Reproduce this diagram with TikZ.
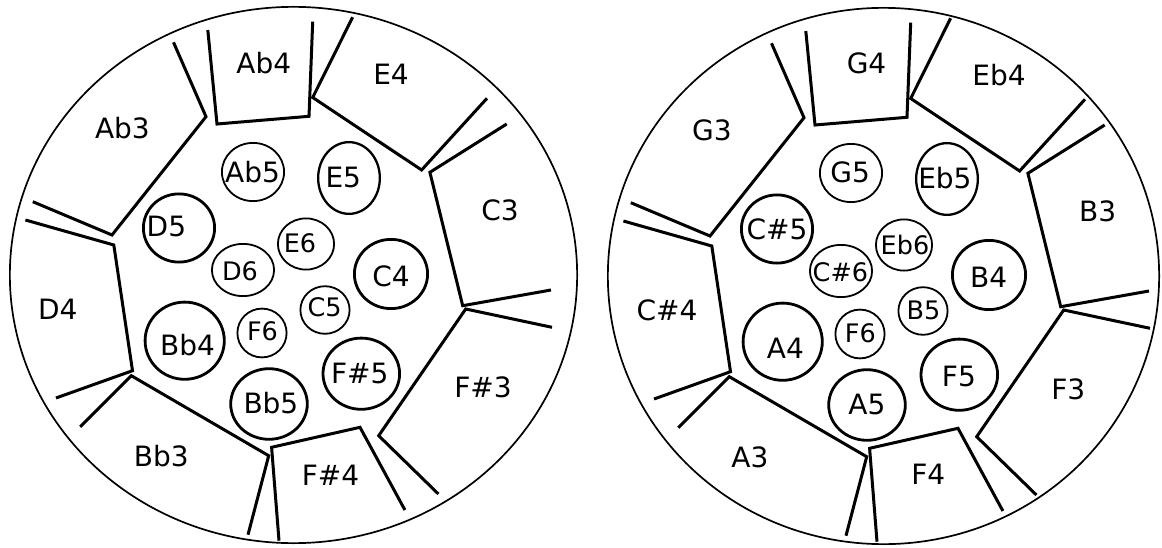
\documentclass[tikz,border=0pt]{standalone}
\usepackage{fontspec}
\setmainfont{DejaVu Sans}
\usetikzlibrary{shapes.geometric}
\tikzset{
  divider/.style={line width=3pt, line join=miter, line cap=butt},
  rim/.style={draw, ellipse, line width=1.7pt, inner sep=0pt},
  ringthick/.style={draw, ellipse, line width=2.8pt, inner sep=0pt},
  ringmid/.style={draw, ellipse, line width=2.3pt, inner sep=0pt},
  ringthin/.style={draw, ellipse, line width=1.8pt, inner sep=0pt},
  lbl/.style={font=\fontsize{28}{30}\selectfont, inner sep=0pt},
  slbl/.style={font=\fontsize{25.5}{28}\selectfont, inner sep=0pt},
}
\newcommand\panelgeom{%
  \draw[divider] (173.5,42.3) -- (206,116.7) -- (112,235) -- (32.8,201.7);
  \draw[divider] (25.4,220) -- (113.8,245) -- (132.5,370.7) -- (56,398);
  \draw[divider] (80.2,426.7) -- (131.3,375.7) -- (268.7,455.7) -- (248,534.7);
  \draw[divider] (279,540.7) -- (271.6,447.3) -- (360,427.3) -- (404.9,510);
  \draw[divider] (438.4,494) -- (378.7,435.7) -- (465.7,309) -- (552,327.3);
  \draw[divider] (551,290) -- (462.7,305.7) -- (429.9,172.3) -- (506.7,124);
  \draw[divider] (352.6,17.3) -- (312.7,97.5) -- (421.6,170) -- (487,98.3);
  \draw[divider] (207.8,30) -- (217,124) -- (309,116.3) -- (312.7,21.7);
}
\begin{document}
\begin{tikzpicture}[x=1pt,y=-1pt]
\useasboundingbox (0,0) rectangle (1162,548);
% ---------------- left panel ----------------
\begin{scope}
  \node[rim, minimum width=567.3pt, minimum height=536.3pt] (rimL) at (293.5,275) {};
  \panelgeom
  \node[ringthin,  minimum width=62.2pt, minimum height=58.2pt] (cAbv) at (253,172) {};
  \node[ringmid,   minimum width=61.7pt, minimum height=71.7pt] (cEv) at (349,178) {};
  \node[ringthick, minimum width=71.2pt, minimum height=68.2pt] (cDv) at (179,228) {};
  \node[ringthin,  minimum width=56.2pt, minimum height=51.2pt] (cEvi) at (306,244) {};
  \node[ringthin,  minimum width=62.2pt, minimum height=52.2pt] (cDvi) at (243,270) {};
  \node[ringthick, minimum width=73.2pt, minimum height=69.2pt] (cCiv) at (391,274) {};
  \node[ringthin,  minimum width=49.2pt, minimum height=47.6pt] (cCv) at (325,310) {};
  \node[ringthin,  minimum width=49.2pt, minimum height=48.8pt] (cFvi) at (262,333) {};
  \node[ringthick, minimum width=79.2pt, minimum height=77.2pt] (cBbiv) at (184.7,340.7) {};
  \node[ringthick, minimum width=76.6pt, minimum height=71.2pt] (cFsv) at (361.3,373.7) {};
  \node[ringthick, minimum width=76.6pt, minimum height=70.6pt] (cBbv) at (269,404) {};
\end{scope}
\node[lbl] (tAbiv) at (263.8,63.3) {Ab4};
\node[lbl] (tEiv) at (391,74) {E4};
\node[lbl] (tAbiii) at (122.4,128.3) {Ab3};
\node[lbl] (tCiii) at (500,210.7) {C3};
\node[lbl] (tDiv) at (57.8,309) {D4};
\node[lbl] (tFsiii) at (483,387.3) {F\#3};
\node[lbl] (tBbiii) at (161.2,455.7) {Bb3};
\node[lbl] (tFsiv) at (330.5,475.7) {F\#4};
\node[lbl] (lAbv) at (252.5,172) {Ab5};
\node[lbl] (lEv) at (343.3,177.5) {E5};
\node[lbl] (lDv) at (166.4,226.7) {D5};
\node[slbl] (lEvi) at (300,243) {E6};
\node[slbl] (lDvi) at (240,271) {D6};
\node[lbl] (lCiv) at (391,276) {C4};
\node[slbl] (lCv) at (324.6,307.5) {C5};
\node[slbl] (lFvi) at (262.5,331.5) {F6};
\node[lbl] (lBbiv) at (187.5,344.7) {Bb4};
\node[lbl] (lFsv) at (359.7,373.3) {F\#5};
\node[lbl] (lBbv) at (270.9,403.3) {Bb5};
% ---------------- right panel ----------------
\begin{scope}[shift={(598,1)}]
  \node[rim, minimum width=551.3pt, minimum height=536.3pt] (rimR) at (285.5,275) {};
  \panelgeom
  \node[ringthin,  minimum width=62.2pt, minimum height=58.2pt] (cGv) at (253,172) {};
  \node[ringmid,   minimum width=61.7pt, minimum height=71.7pt] (cEbv) at (349,178) {};
  \node[ringthick, minimum width=71.2pt, minimum height=68.2pt] (cCsv) at (179,228) {};
  \node[ringthin,  minimum width=56.2pt, minimum height=51.2pt] (cEbvi) at (306,244) {};
  \node[ringthin,  minimum width=62.2pt, minimum height=52.2pt] (cCsvi) at (243,270) {};
  \node[ringthick, minimum width=73.2pt, minimum height=69.2pt] (cBiv) at (391,274) {};
  \node[ringthin,  minimum width=49.2pt, minimum height=47.6pt] (cBv) at (325,310) {};
  \node[ringthin,  minimum width=49.2pt, minimum height=48.8pt] (cFvib) at (262,333) {};
  \node[ringthick, minimum width=79.2pt, minimum height=77.2pt] (cAiv) at (184.7,340.7) {};
  \node[ringthick, minimum width=76.6pt, minimum height=71.2pt] (cFv) at (361.3,373.7) {};
  \node[ringthick, minimum width=76.6pt, minimum height=70.6pt] (cAv) at (269,404) {};
\end{scope}
\node[lbl] (tGiv) at (866.5,63.3) {G4};
\node[lbl] (tEbiv) at (999,75) {Eb4};
\node[lbl] (tGiii) at (711.9,130) {G3};
\node[lbl] (tBiii) at (1097.7,211.7) {B3};
\node[lbl] (tCsiv) at (667,310) {C\#4};
\node[lbl] (tFiii) at (1068.2,389) {F3};
\node[lbl] (tAiii) at (749.9,457.3) {A3};
\node[lbl] (tFiv) at (928.3,474) {F4};
\node[lbl] (lGv) at (850.1,172.7) {G5};
\node[lbl] (lEbv) at (944.9,178.3) {Eb5};
\node[lbl] (lCsv) at (777,229.3) {C\#5};
\node[slbl] (lEbvi) at (905,245) {Eb6};
\node[slbl] (lCsvi) at (840.4,272) {C\#6};
\node[lbl] (lBiv) at (988.7,277) {B4};
\node[slbl] (lBv) at (923.4,310.7) {B5};
\node[slbl] (lFvib) at (860.4,333.3) {F6};
\node[lbl] (lAiv) at (785.4,348) {A4};
\node[lbl] (lFv) at (958.9,376.7) {F5};
\node[lbl] (lAv) at (866.9,404) {A5};
\end{tikzpicture}
\end{document}
